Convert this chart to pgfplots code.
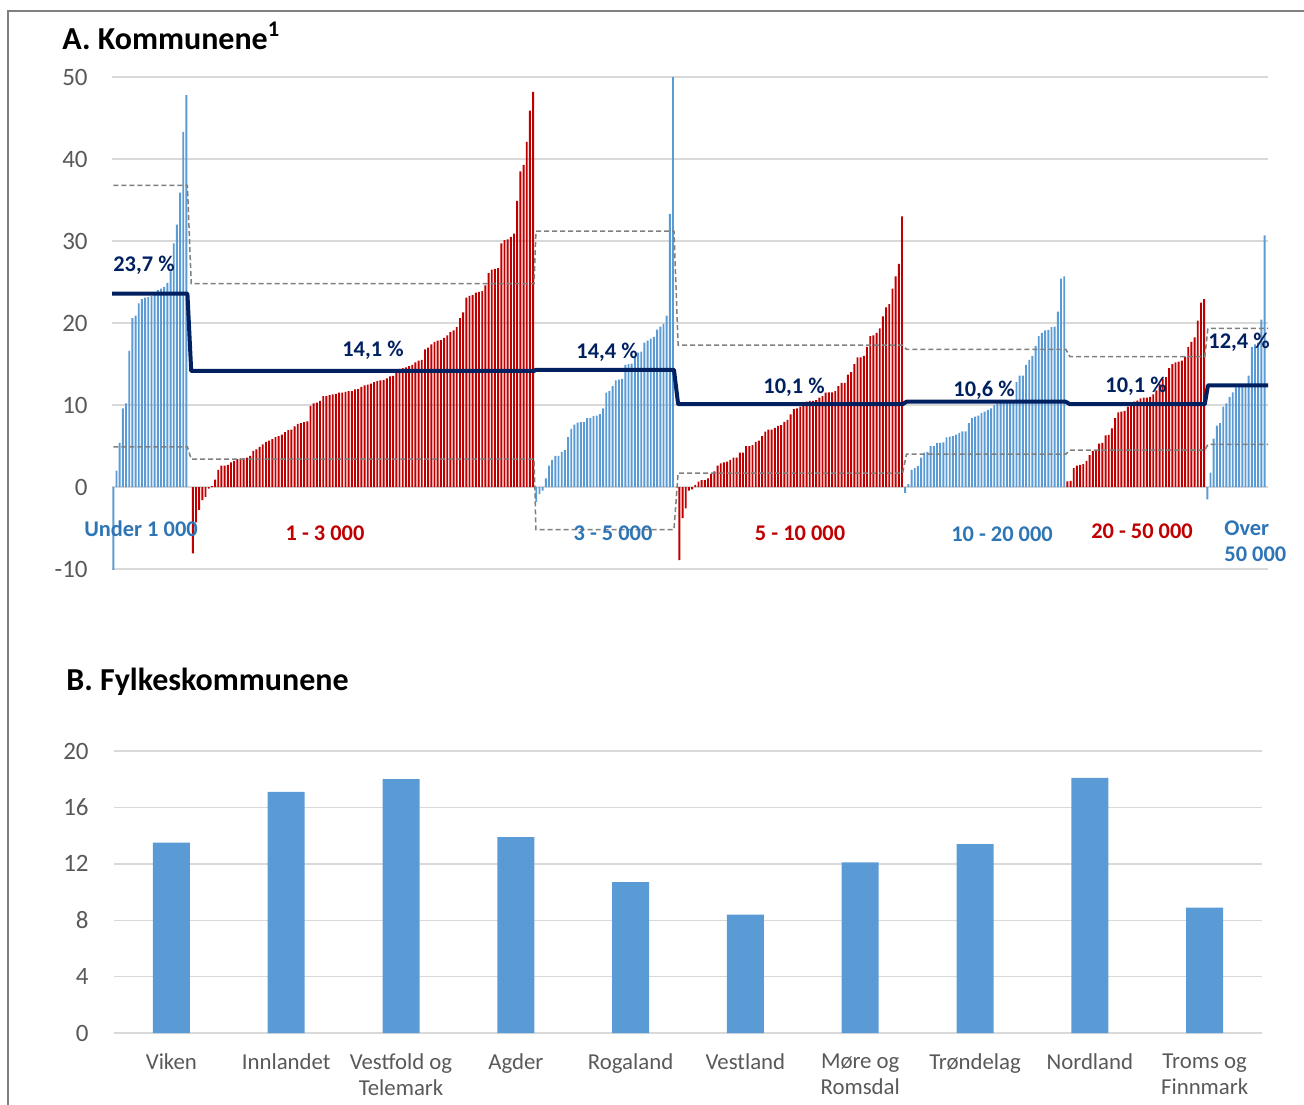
\documentclass[border=0pt]{standalone}
\usepackage{pgfplots}
\pgfplotsset{compat=1.18}
\usepackage{fontspec}
\setmainfont{Carlito}
\definecolor{barblue}{HTML}{5B9BD5}
\definecolor{barred}{HTML}{C00000}
\definecolor{txtblue}{HTML}{2E75B6}
\definecolor{navy}{HTML}{002060}
\definecolor{gridc}{HTML}{D9D9D9}
\definecolor{tickc}{HTML}{595959}
\definecolor{dashc}{HTML}{7F7F7F}
\definecolor{framec}{HTML}{808080}
\begin{document}
\begin{tikzpicture}
\begin{scope}[x=0.5bp,y=-0.5bp]
\useasboundingbox (0,0) rectangle (1304,1104);
\draw[framec, line width=1.25bp] (8,1110) -- (8,11) -- (1310,11);
\end{scope}
% ---------------- Panel A ----------------
\begin{axis}[
  at={(56bp,-284.5bp)}, anchor=south west,
  scale only axis, width=578bp, height=246bp,
  xmin=-0.41, xmax=363.1, ymin=-10, ymax=50,
  ytick={-10,0,10,20,30,40,50}, xtick=\empty,
  ymajorgrids, grid style={gridc, line width=0.75bp},
  axis line style={draw=none}, major tick length=0pt,
  yticklabel style={font=\fontsize{12.5bp}{14bp}\selectfont, text=tickc, inner sep=0pt, anchor=east, xshift=-12bp},
  /pgf/number format/assume math mode=true,
]
% Under 1 000
\addplot[ybar, bar width=0.6, bar shift=0pt, fill=barblue, draw=none] coordinates {
(0,-10.5)(1,2.0)(2,5.4)(3,9.6)(4,10.2)(5,16.6)(6,20.6)(7,20.9)(8,22.4)(9,22.9)(10,23.1)(11,23.2)
(12,23.3)(13,23.4)(14,24.0)(15,24.2)(16,24.4)(17,24.9)(18,26.3)(19,29.7)(20,32.0)(21,35.9)(22,43.3)(23,47.8)};
% 1 - 3 000
\addplot[ybar, bar width=0.6, bar shift=0pt, fill=barred, draw=none] coordinates {
(25,-8.1)(26,-4.3)(27,-2.8)(28,-1.6)(29,-1.2)(30,-0.2)(31,0.1)(32,0.9)(33,2.1)(34,2.6)(35,2.6)(36,2.7)
(37,3.0)(38,3.2)(39,3.4)(40,3.5)(41,3.5)(42,3.6)(43,3.8)(44,4.4)(45,4.6)(46,4.9)(47,5.2)(48,5.5)
(49,5.65)(50,5.85)(51,6.1)(52,6.2)(53,6.4)(54,6.7)(55,6.95)(56,7.0)(57,7.4)(58,7.7)(59,7.8)(60,7.9)
(61,8.0)(62,9.9)(63,10.2)(64,10.3)(65,10.5)(66,11.1)(67,11.1)(68,11.2)(69,11.3)(70,11.35)(71,11.5)(72,11.5)
(73,11.6)(74,11.7)(75,11.7)(76,11.9)(77,11.95)(78,12.2)(79,12.4)(80,12.5)(81,12.6)(82,12.8)(83,12.9)(84,13.0)
(85,13.05)(86,13.25)(87,13.5)(88,13.55)(89,14.3)(90,14.4)(91,14.5)(92,14.6)(93,14.75)(94,14.9)(95,15.2)(96,15.4)
(97,15.5)(98,16.8)(99,17.0)(100,17.4)(101,17.7)(102,17.85)(103,17.9)(104,18.2)(105,18.5)(106,18.9)(107,19.1)(108,19.5)
(109,20.6)(110,21.3)(111,23.1)(112,23.3)(113,23.4)(114,23.7)(115,23.8)(116,23.9)(117,24.6)(118,26.1)(119,26.5)(120,26.6)
(121,26.7)(122,29.7)(123,30.1)(124,30.2)(125,30.5)(126,30.9)(127,34.9)(128,38.5)(129,39.3)(130,42.1)(131,45.9)(132,48.2)};
% 3 - 5 000
\addplot[ybar, bar width=0.6, bar shift=0pt, fill=barblue, draw=none] coordinates {
(133,-1.8)(134,-0.85)(135,-0.45)(136,1.05)(137,2.6)(138,3.3)(139,3.8)(140,3.8)(141,4.3)(142,4.5)(143,6.1)
(144,7.1)(145,7.6)(146,7.85)(147,7.9)(148,7.9)(149,8.4)(150,8.4)(151,8.65)(152,8.7)(153,8.9)(154,9.6)
(155,11.5)(156,11.7)(157,12.3)(158,13.0)(159,13.1)(160,13.2)(161,14.9)(162,15.0)(163,15.05)(164,16.0)
(165,16.4)(166,16.5)(167,17.6)(168,17.85)(169,18.1)(170,18.3)(171,19.2)(172,19.55)(173,19.9)(174,20.9)
(175,33.3)(176,52)};
% 5 - 10 000
\addplot[ybar, bar width=0.6, bar shift=0pt, fill=barred, draw=none] coordinates {
(178,-8.9)(179,-3.8)(180,-2.6)(181,-0.45)(182,-0.3)(183,0.25)(184,0.65)(185,0.85)(186,0.85)(187,1.05)
(188,1.6)(189,1.9)(190,2.6)(191,2.9)(192,3.0)(193,3.1)(194,3.3)(195,3.6)(196,3.6)(197,4.2)(198,4.2)
(199,5.0)(200,5.0)(201,5.1)(202,5.5)(203,5.65)(204,6.2)(205,6.75)(206,7.0)(207,7.0)(208,7.2)
(209,7.45)(210,7.55)(211,7.95)(212,8.2)(213,8.85)(214,9.5)(215,9.6)(216,9.8)(217,10.3)(218,10.4)
(219,10.5)(220,10.5)(221,10.6)(222,10.9)(223,11.1)(224,11.5)(225,11.55)(226,11.55)(227,11.7)(228,12.3)
(229,12.7)(230,12.7)(231,13.7)(232,14.0)(233,15.0)(234,15.8)(235,15.8)(236,16.0)(237,17.1)(238,18.4)
(239,18.5)(240,18.8)(241,19.35)(242,20.8)(243,21.9)(244,22.3)(245,24.2)(246,25.7)(247,27.2)(248,33.0)};
% 10 - 20 000
\addplot[ybar, bar width=0.6, bar shift=0pt, fill=barblue, draw=none] coordinates {
(249,-0.7)(250,0.35)(251,2.1)(252,2.3)(253,2.55)(254,3.6)(255,4.2)(256,4.3)(257,5.0)(258,5.0)
(259,5.4)(260,5.4)(261,5.45)(262,6.05)(263,6.15)(264,6.2)(265,6.4)(266,6.6)(267,6.8)(268,6.8)
(269,7.8)(270,8.4)(271,8.6)(272,8.7)(273,9.0)(274,9.2)(275,9.4)(276,9.6)(277,10.0)(278,10.2)
(279,10.3)(280,10.3)(281,10.3)(282,10.4)(283,10.4)(284,12.8)(285,13.6)(286,13.6)(287,14.9)(288,15.5)
(289,16.0)(290,17.2)(291,18.4)(292,18.8)(293,19.1)(294,19.15)(295,19.5)(296,19.55)(297,21.4)(298,25.4)(299,25.7)};
% 20 - 50 000
\addplot[ybar, bar width=0.6, bar shift=0pt, fill=barred, draw=none] coordinates {
(300,0.7)(301,0.75)(302,2.3)(303,2.6)(304,2.7)(305,2.8)(306,3.2)(307,3.9)(308,4.4)(309,4.4)
(310,5.3)(311,5.4)(312,6.3)(313,6.35)(314,7.15)(315,8.4)(316,9.1)(317,9.2)(318,9.3)(319,9.8)
(320,10.2)(321,10.4)(322,10.55)(323,10.8)(324,10.9)(325,10.9)(326,11.0)(327,11.3)(328,11.8)(329,12.6)
(330,13.25)(331,13.4)(332,14.5)(333,15.0)(334,15.2)(335,15.3)(336,15.4)(337,15.9)(338,17.1)(339,17.7)
(340,18.25)(341,20.3)(342,22.5)(343,22.9)};
% Over 50 000
\addplot[ybar, bar width=0.6, bar shift=0pt, fill=barblue, draw=none] coordinates {
(344,-1.5)(345,1.75)(346,5.9)(347,7.5)(348,7.8)(349,9.8)(350,10.2)(351,11.0)(352,11.55)(353,12.15)
(354,12.25)(355,12.25)(356,12.4)(357,13.6)(358,17.1)(359,17.4)(360,17.6)(361,20.4)(362,30.7)};
% dashed bounds
\addplot[dashc, line width=0.75bp, dash pattern=on 2.5bp off 1.5bp, mark=none] coordinates {
(0,36.8)(23.3,36.8)(24.5,24.8)(132.3,24.8)(132.9,31.2)(176.3,31.2)(177.6,17.3)(248.2,17.3)(249.4,16.8)(299.5,16.8)(300.8,15.9)(343.2,15.9)(344.2,19.35)(363.1,19.35)};
\addplot[dashc, line width=0.75bp, dash pattern=on 2.5bp off 1.5bp, mark=none] coordinates {
(0,4.9)(23.3,4.9)(24.5,3.4)(132.3,3.4)(132.9,-5.2)(176.3,-5.2)(177.6,1.7)(248.2,1.7)(249.4,4.0)(299.5,4.0)(300.8,4.5)(343.2,4.5)(344.2,5.2)(363.1,5.2)};
% group averages
\addplot[navy, line width=2bp, mark=none, line join=round] coordinates {
(-0.4,23.6)(23.3,23.6)(24.5,14.15)(132.3,14.15)(132.9,14.3)(176.3,14.3)(177.6,10.1)(248.2,10.1)(249.4,10.4)(299.5,10.4)(300.8,10.1)(343.2,10.1)(344.2,12.4)(363.1,12.4)};
\end{axis}
% ---------------- Panel B ----------------
\begin{axis}[
  at={(57bp,-516.5bp)}, anchor=south west,
  scale only axis, width=574bp, height=141bp,
  xmin=-0.5, xmax=9.5, ymin=0, ymax=20,
  ytick={0,4,8,12,16,20}, xtick={0,1,2,3,4,5,6,7,8,9},
  xticklabels={Viken,Innlandet,{Vestfold og\\Telemark},Agder,Rogaland,Vestland,{Møre og\\Romsdal},Trøndelag,Nordland,{Troms og\\Finnmark}},
  ymajorgrids, grid style={gridc, line width=0.75bp},
  axis line style={draw=none}, major tick length=0pt,
  yticklabel style={font=\fontsize{12.5bp}{14bp}\selectfont, text=tickc, inner sep=0pt, anchor=east, xshift=-12.5bp},
  xticklabel style={font=\fontsize{11.4bp}{13bp}\selectfont, text=tickc, inner sep=0pt, align=center, anchor=north, yshift=-10bp},
  /pgf/number format/assume math mode=true,
]
\addplot[ybar, bar width=18.5bp, bar shift=0pt, fill=barblue, draw=none] coordinates {
(0,13.5)(1,17.1)(2,18.0)(3,13.9)(4,10.7)(5,8.4)(6,12.1)(7,13.4)(8,18.1)(9,8.9)};
\end{axis}
% ---------------- Texts ----------------
\begin{scope}[x=0.5bp,y=-0.5bp]
\node[anchor=base west, inner sep=0pt, font=\fontsize{16bp}{18bp}\selectfont\bfseries] at (62,49) {A. Kommunene\textsuperscript{1}};
\node[anchor=base west, inner sep=0pt, font=\fontsize{16bp}{18bp}\selectfont\bfseries] at (66,690) {B. Fylkeskommunene};
\begin{scope}[every node/.style={inner sep=0pt, font=\fontsize{11.2bp}{13bp}\selectfont\bfseries, text=navy}]
\node at (144,265) {23,7 \%};
\node at (373,350) {14,1 \%};
\node at (607,352) {14,4 \%};
\node at (794,387) {10,1 \%};
\node at (984,390) {10,6 \%};
\node at (1136,386) {10,1 \%};
\node at (1239,342) {12,4 \%};
\end{scope}
\begin{scope}[every node/.style={inner sep=0pt, font=\fontsize{11.2bp}{13bp}\selectfont\bfseries}]
\node[text=txtblue] at (141,529) {Under 1 000};
\node[text=barred] at (325,533) {1 - 3 000};
\node[text=txtblue] at (613,533) {3 - 5 000};
\node[text=barred] at (800,533) {5 - 10 000};
\node[text=txtblue] at (1002,534) {10 - 20 000};
\node[text=barred] at (1142,531) {20 - 50 000};
\node[text=txtblue, anchor=west] at (1224,528) {Over};
\node[text=txtblue, anchor=west] at (1224,554) {50 000};
\end{scope}
\end{scope}
\end{tikzpicture}
\end{document}
